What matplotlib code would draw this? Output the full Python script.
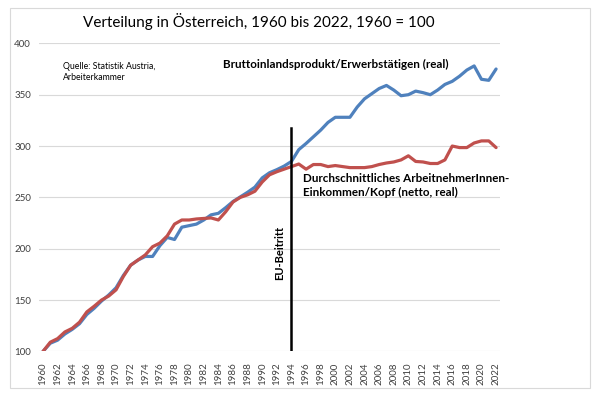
import matplotlib.pyplot as plt
from matplotlib.patches import Rectangle

plt.rcParams['font.family'] = ['Lato', 'DejaVu Sans']

# ===================== Daten (1960 = 100) =====================
years = list(range(1960, 2023))

bip_je_erwerbstaetigen = [
    100, 108, 111, 117, 121.5, 127, 136, 142, 149, 155,
    162, 174, 184, 189, 192.5, 192.5, 203, 211, 209, 221,
    222.5, 224, 228, 233, 234.5, 240, 246, 250.5, 255, 260,
    269, 274, 277, 280.5, 285, 296.5, 302.5, 309, 315.5, 323,
    328, 328, 328, 338, 346, 351, 356, 359, 354.5, 349,
    350, 353.5, 352, 350, 354.5, 360, 363, 368, 374, 378,
    365, 364, 375,
]

einkommen_je_kopf = [
    100, 109, 112.5, 119, 122.5, 128.5, 138.5, 144, 150, 154,
    160, 173, 184, 189, 194, 202, 205.5, 212.5, 224, 228,
    228, 229, 229.5, 230, 228, 236, 245.5, 250, 252.5, 256,
    265, 272, 275, 277.5, 280, 282.5, 277.5, 282, 282, 280,
    281, 280, 279, 279, 279, 280, 282, 283.5, 284.5, 286.5,
    290.5, 285, 284.5, 283, 283, 286.5, 300, 298.5, 298.5, 303,
    305, 305, 298.5,
]

y_ticks = [100, 150, 200, 250, 300, 350, 400]
eu_jahr = 1994

# ===================== Zeichnen =====================
fig = plt.figure(figsize=(6.05, 3.94), dpi=100)
ax = fig.add_axes([0.065, 0.108, 0.761, 0.782])

x = list(range(len(years)))
ax.plot(x, bip_je_erwerbstaetigen, color='#4F81BD', linewidth=2.3, solid_capstyle='round')
ax.plot(x, einkommen_je_kopf, color='#C0504D', linewidth=2.3, solid_capstyle='round')

# EU-Beitritt Linie
eu_idx = years.index(eu_jahr)
ax.plot([eu_idx, eu_idx], [100, 317.5], color='black', linewidth=1.8)

ax.set_xlim(-0.5, len(years) - 0.5)
ax.set_ylim(100, 400)
ax.set_yticks(y_ticks)
ax.set_xticks(x[::2])
ax.set_xticklabels([str(y) for y in years[::2]], rotation=90)
ax.tick_params(axis='both', length=0, labelsize=7, colors='#404040')
ax.tick_params(axis='x', pad=8)
ax.tick_params(axis='y', pad=6)
ax.grid(True, axis='y', color='#D9D9D9', linewidth=0.8)
ax.set_axisbelow(True)
for s in ax.spines.values():
    s.set_visible(False)

# ===================== Texte =====================
ax.text(2.7, 382, 'Quelle: Statistik Austria,\nArbeiterkammer', fontsize=6.3,
        va='top', ha='left', linespacing=1.35)
ax.text(24.6, 379, 'Bruttoinlandsprodukt/Erwerbstätigen (real)', fontsize=8.4,
        fontweight='bold', va='center', ha='left')
ax.text(35.6, 273.5, 'Durchschnittliches ArbeitnehmerInnen-\nEinkommen/Kopf (netto, real)',
        fontsize=8.4, fontweight='bold', va='top', ha='left', linespacing=1.35)
ax.text(32.4, 196, 'EU-Beitritt', fontsize=8, fontweight='bold', rotation=90,
        va='center', ha='center')

fig.text(259 / 605, 1 - 22 / 394, 'Verteilung in Österreich, 1960 bis 2022, 1960 = 100',
         fontsize=11, ha='center', va='center')

# Rahmen ums Diagramm
fig.patches.append(Rectangle((10 / 605, 1 - 388 / 394), 580 / 605, 380 / 394,
                             transform=fig.transFigure, fill=False,
                             edgecolor='#D9D9D9', linewidth=0.8))

fig.savefig('out.png', dpi=100)
